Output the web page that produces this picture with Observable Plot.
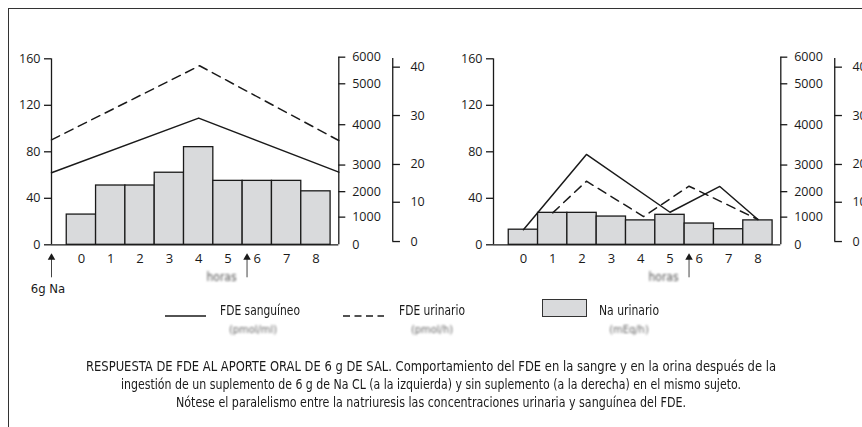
<!DOCTYPE html>
<html>
<head>
<meta charset="utf-8">
<script src="https://cdn.jsdelivr.net/npm/d3@7"></script>
<script src="https://cdn.jsdelivr.net/npm/@observablehq/plot@0.6"></script>
<style>
  html, body { margin: 0; padding: 0; background: #fff; overflow: hidden; }
  #page { position: relative; width: 862px; height: 427px; overflow: hidden; color: #1a1a1a;
          font-family: "Liberation Sans Narrow", "DejaVu Sans Condensed", "Roboto", sans-serif; }
  #frame { position: absolute; left: 8px; top: 8px; width: 1000px; height: 1000px;
           border-left: 1.5px solid #333; border-top: 1.5px solid #333; }
  .panel { position: absolute; top: 0; width: 440px; height: 300px; }
  .lg { position: absolute; white-space: nowrap; font-size: 13.5px; line-height: 1; transform-origin: 0 0; }
  .unit { position: absolute; white-space: nowrap; font-size: 11px; line-height: 1; color: #666; filter: blur(1.1px); transform: translateX(-50%); }
  .cap { position: absolute; white-space: nowrap; font-size: 14px; line-height: 1; transform-origin: 0 0; }
</style>
</head>
<body>
<div id="page">
  <div id="left" class="panel" style="left:0px"></div>
  <div id="right" class="panel" style="left:442.3px"></div>
  <div id="frame"></div>
  <div id="legend"></div>
  <div id="caption"></div>
</div>
<script>
// ---------------- data ----------------
const horas = [0, 1, 2, 3, 4, 5, 6, 7, 8];
// Na urinario (bars), read on the 0–160 scale
const naConSuplemento = [26, 51, 51, 62, 84, 55, 55, 55, 46];
const naSinSuplemento = [13, 27.5, 27.5, 24.3, 21, 25.8, 18.3, 13.4, 21];
// FDE lines (hour, value on 0–160 scale)
const ingesta = -1.02;          // hour of the 6 g Na intake (left axis)
const finEje = 8.78;            // hour at the right-hand axis
const tercerEje = 10.62;        // hour of the third (0–40) axis
const sangConHora = [ingesta, 4, finEje];
const sangCon = [62, 109, 62.5];
const orinaConHora = [ingesta, 4.03, finEje];
const orinaCon = [90.3, 154, 89.7];
const sangSinHora = [0, 2.15, 5, 6.7, 8];
const sangSin = [13, 77.7, 28, 50.2, 21.8];
const orinaSinHora = [1, 2.15, 4.1, 5.65, 8];
const orinaSin = [27.5, 54.7, 24.3, 50.4, 21.8];
const flechaHora = 5.65;
// axes
const ejeIzqTicks = [0, 40, 80, 120, 160];
const eje6000Ticks = [0, 1000, 2000, 3000, 4000, 5000, 6000];
const eje6000EnEscala = [0, 23.8, 45.7, 68.6, 103.3, 138.5, 161.4]; // piecewise mapping onto 0–160
const eje40Ticks = [0, 10, 20, 30, 40];
const eje40EnEscala = [2.8, 36.6, 69.1, 111.2, 152.8];
const eje40Tope = 160.3;
// texts
const series = ["FDE sanguíneo", "FDE urinario", "Na urinario"];
const unidades = ["(pmol/ml)", "(pmol/h)", "(mEq/h)"];
const rotuloX = "horas";
const rotuloIngesta = "6g Na";
const leyenda = [
  "RESPUESTA DE FDE AL APORTE ORAL DE 6 g DE SAL. Comportamiento del FDE en la sangre y en la orina después de la",
  "ingestión de un suplemento de 6 g de Na CL (a la izquierda) y sin suplemento (a la derecha) en el mismo sujeto.",
  "Nótese el paralelismo entre la natriuresis las concentraciones urinaria y sanguínea del FDE."
];

// ---------------- layout / style ----------------
const INK = "#1a1a1a", BAR = "#d9dadc";
const W = 440, H = 300;
const M = {left: 51, right: 101.7, top: 58.3, bottom: 55.7};
const pxH = (W - M.left - M.right) / (finEje - ingesta);
const pxV = (H - M.top - M.bottom) / 160;
const tick = 7 / pxH;
const below = px => -px / pxV;
const NUMFONT = "'Open Sans', 'Noto Sans', sans-serif";

const escala6000 = d3.scaleLinear().domain(eje6000Ticks).range(eje6000EnEscala);
const escala40 = d3.scaleLinear().domain(eje40Ticks).range(eje40EnEscala);

function panel({na, sH, s, oH, o, conIngesta}) {
  const barras = horas.map((h, i) => ({hora: h, valor: na[i]}));
  const sang = sH.map((h, i) => ({hora: h, valor: s[i]}));
  const orina = oH.map((h, i) => ({hora: h, valor: o[i]}));
  const t6 = eje6000Ticks.map(t => ({t, y: escala6000(t)}));
  const t4 = eje40Ticks.map(t => ({t, y: escala40(t)}));
  const flechas = conIngesta ? [ingesta, flechaHora] : [flechaHora];
  const marks = [
    Plot.rectY(barras, {x1: d => d.hora - 0.5, x2: d => d.hora + 0.5, y: "valor", fill: BAR, stroke: INK, strokeWidth: 1.3}),
    Plot.line(sang, {x: "hora", y: "valor", stroke: INK, strokeWidth: 1.5}),
    Plot.line(orina, {x: "hora", y: "valor", stroke: INK, strokeWidth: 1.5, strokeDasharray: "9,6"}),
    // left axis
    Plot.ruleY([0], {x1: ingesta, x2: finEje, stroke: INK, strokeWidth: 1.3}),
    Plot.ruleX([ingesta], {y1: 0, y2: 160, stroke: INK, strokeWidth: 1.3}),
    Plot.axisY({anchor: "left", ticks: ejeIzqTicks, tickSize: 7, tickPadding: 4, label: null,
                strokeWidth: 1.3, fontSize: 12.5, fontFamily: NUMFONT}),
    Plot.axisX({ticks: horas, tickSize: 0, tickPadding: 9, label: null, fontSize: 13, fontFamily: NUMFONT}),
    // 0–6000 axis
    Plot.ruleX([finEje], {y1: 0, y2: escala6000(6000), stroke: INK, strokeWidth: 1.3}),
    Plot.ruleY(t6.filter(d => d.t > 0), {y: "y", x1: finEje, x2: finEje + tick, stroke: INK, strokeWidth: 1.3}),
    Plot.text(t6, {x: finEje, y: "y", text: d => String(d.t), textAnchor: "start", dx: 13.4, fontSize: 12.5, fontFamily: NUMFONT, fill: INK}),
    // 0–40 axis
    Plot.ruleX([tercerEje], {y1: escala40(0), y2: eje40Tope, stroke: INK, strokeWidth: 1.3}),
    Plot.ruleY(t4, {y: "y", x1: tercerEje, x2: tercerEje + tick * 1.1, stroke: INK, strokeWidth: 1.3}),
    Plot.text(t4, {x: tercerEje, y: "y", text: d => String(d.t), textAnchor: "start", dx: 17.7, fontSize: 12.5, fontFamily: NUMFONT, fill: INK}),
    // arrows
    Plot.ruleX(flechas, {y1: below(13), y2: below(33), stroke: "#444", strokeWidth: 1}),
    Plot.dot(flechas, {x: d => d, y: below(12.7), symbol: "triangle", r: 2.8, fill: INK, stroke: null}),
    Plot.text([rotuloX], {x: 4.78, y: below(32.7), text: d => d, fontSize: 12, fill: "#555"})
  ];
  if (conIngesta) {
    marks.push(Plot.text([rotuloIngesta], {x: ingesta, y: below(43.7), text: d => d, dx: -3.5, fontSize: 13, fill: INK}));
  }
  const svg = Plot.plot({
    width: W, height: H,
    marginLeft: M.left, marginRight: M.right, marginTop: M.top, marginBottom: M.bottom,
    x: {domain: [ingesta, finEje]},
    y: {domain: [0, 160]},
    style: {background: "transparent", overflow: "visible", color: INK,
            fontFamily: "'Liberation Sans Narrow', 'DejaVu Sans Condensed', sans-serif"},
    marks
  });
  d3.select(svg).selectAll("text").filter(function() { return this.textContent === rotuloX; })
    .style("filter", "blur(1.2px)");
  return svg;
}

document.getElementById("left").append(panel({na: naConSuplemento, sH: sangConHora, s: sangCon, oH: orinaConHora, o: orinaCon, conIngesta: true}));
document.getElementById("right").append(panel({na: naSinSuplemento, sH: sangSinHora, s: sangSin, oH: orinaSinHora, o: orinaSin, conIngesta: false}));

// ---------------- legend ----------------
const lg = document.getElementById("legend");
const lgPos = [
  {sym: 165, symW: 41, txt: 220, txtW: 80, unit: 253},
  {sym: 343, symW: 41, txt: 399, txtW: 66, unit: 432},
  {sym: 542, symW: 45, txt: 599, txtW: 60, unit: 629}
];
series.forEach((name, i) => {
  const p = lgPos[i];
  let sym;
  if (i < 2) {
    sym = `<svg style="position:absolute;left:${p.sym}px;top:310px" width="${p.symW}" height="10">
      <line x1="0" x2="${p.symW}" y1="6" y2="6" stroke="${INK}" stroke-width="1.3" ${i === 1 ? 'stroke-dasharray="7,4.5"' : ''}/></svg>`;
  } else {
    sym = `<div style="position:absolute;left:${p.sym}px;top:299px;width:${p.symW - 2}px;height:16px;background:${BAR};border:1.3px solid #333"></div>`;
  }
  lg.insertAdjacentHTML("beforeend", sym +
    `<div class="lg" id="lg${i}" style="left:${p.txt}px;top:304px">${name}</div>` +
    `<div class="unit" style="left:${p.unit}px;top:324px">${unidades[i]}</div>`);
  const el = document.getElementById("lg" + i);
  const w = el.getBoundingClientRect().width;
  el.style.transform = `scaleX(${p.txtW / w})`;
});

// ---------------- caption ----------------
const cap = document.getElementById("caption");
const capW = [690, 620, 510], capY = [359, 377, 395];
leyenda.forEach((t, i) => {
  const el = document.createElement("div");
  el.className = "cap";
  el.textContent = t;
  el.style.top = capY[i] + "px";
  cap.append(el);
  const w = el.getBoundingClientRect().width;
  el.style.left = (431 - capW[i] / 2) + "px";
  el.style.transform = `scaleX(${capW[i] / w})`;
});
</script>
</body>
</html>
